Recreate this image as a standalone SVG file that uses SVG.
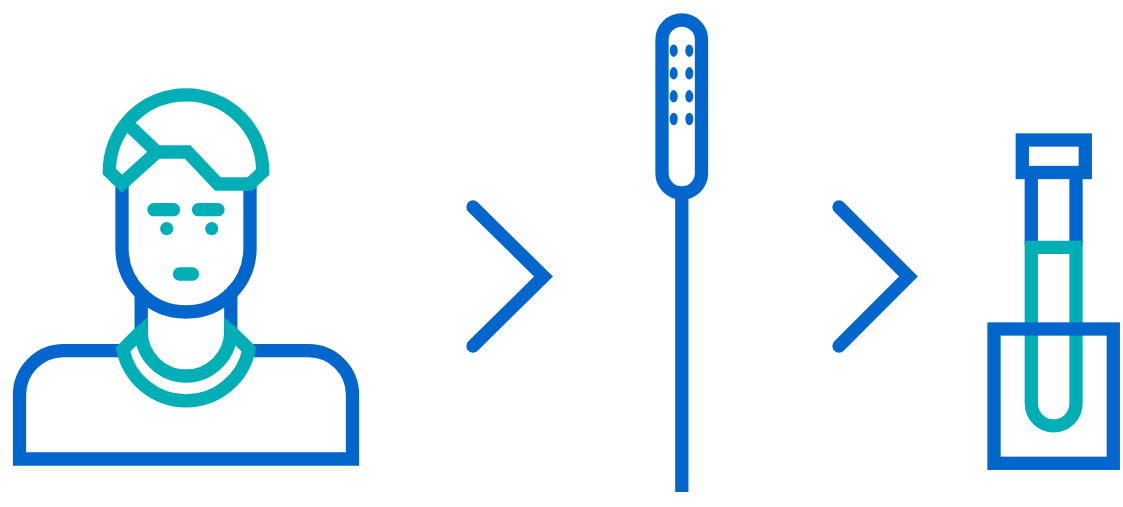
<svg xmlns="http://www.w3.org/2000/svg" width="1123" height="507" viewBox="0 0 1123 507">
<style>
.b{fill:none;stroke:#0366cc;stroke-width:13.3;stroke-miterlimit:10}
.t{fill:none;stroke:#00aeb5;stroke-width:13.3;stroke-miterlimit:10}
.tr{fill:none;stroke:#00aeb5;stroke-width:13.3;stroke-linecap:round}
.tf{fill:#00aeb5}
.bf{fill:#0366cc}
</style>
<rect width="1123" height="507" fill="#fff"/>
<g id="person">
<path class="b" d="M124,350.7H63.5A44,44 0 0 0 19.5,394.7V459H352.5V394.7A44,44 0 0 0 308.500,350.7H248"/>
<path class="b" d="M141.200,290V332M230.800,290V332"/>
<path class="b" d="M122,182V248A64,64 0 0 0 250,248V182"/>
<path class="t" d="M141.200,330V331A44.800,45 0 0 0 230.800,331V330"/>
<path class="t" d="M143,329.500L123,349.500A64.300,64.300 0 0 0 249,349.500L229,329.500"/>
<polygon class="tf" points="147.700,316.700 133,331 147.700,336"/>
<polygon class="tf" points="224.300,316.700 239,331 224.300,336"/>
<path class="t" d="M109.300,171.500A76.700,76.700 0 0 1 262.700,171.500V172L250,184H218L187.500,152H157L122,183.700L109.300,171.500Z"/>
<path class="t" d="M128,124.500L157,152"/>
<path class="tr" d="M154,209.700H173.500M198.500,209.700H218M179.500,274H192.500"/>
<circle class="tf" cx="166.700" cy="228.700" r="6.600"/>
<circle class="tf" cx="211.700" cy="228.700" r="6.600"/>
</g>
<g id="connectors">
<path class="b" d="M473,207L543.500,276.500L473,346" stroke-linecap="round"/>
<path class="b" d="M839,207L908.500,276.500L839,346" stroke-linecap="round"/>
</g>
<g id="swab">
<path class="b" d="M681.800,193V492"/>
<rect class="b" x="662" y="20" width="39.500" height="173" rx="19.750"/>
<ellipse class="bf" cx="673.700" cy="50.700" rx="4" ry="6.200"/>
<ellipse class="bf" cx="689.300" cy="50.700" rx="4" ry="6.200"/>
<ellipse class="bf" cx="673.700" cy="73.300" rx="4" ry="6.200"/>
<ellipse class="bf" cx="689.300" cy="73.300" rx="4" ry="6.200"/>
<ellipse class="bf" cx="673.700" cy="96.300" rx="4" ry="6.200"/>
<ellipse class="bf" cx="689.300" cy="96.300" rx="4" ry="6.200"/>
<ellipse class="bf" cx="673.700" cy="119" rx="4" ry="6.200"/>
<ellipse class="bf" cx="689.300" cy="119" rx="4" ry="6.200"/>
</g>
<g id="tube">
<path class="b" d="M1031.300,175V245M1076,175V245"/>
<rect class="b" x="1022.300" y="140" width="63" height="32.500"/>
<path class="t" d="M1031.300,247.300V403.600A22.350,22.350 0 0 0 1076,403.600V247.300Z"/>
<rect class="b" x="994" y="329" width="119.300" height="134.300"/>
</g>
</svg>
